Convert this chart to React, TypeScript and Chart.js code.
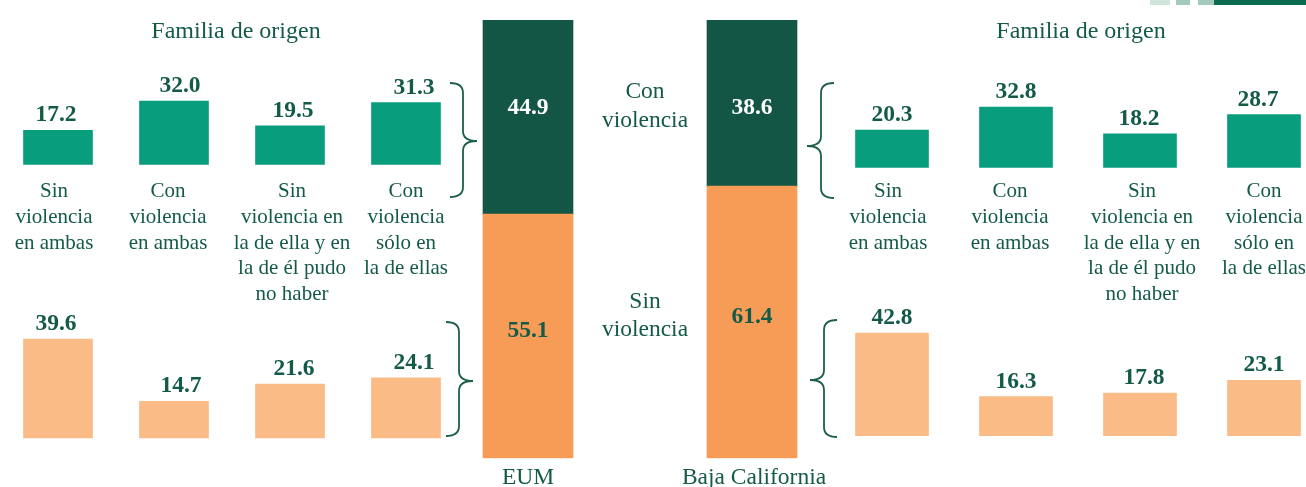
import React, { useEffect, useRef } from 'react';
import { Chart, registerables } from 'chart.js';

Chart.register(...registerables);

// ---------- data ----------
const categories = [
  'Sin violencia en ambas',
  'Con violencia en ambas',
  'Sin violencia en la de ella y en la de él pudo no haber',
  'Con violencia sólo en la de ellas',
];
const categoryLines = [
  ['Sin', 'violencia', 'en ambas'],
  ['Con', 'violencia', 'en ambas'],
  ['Sin', 'violencia en', 'la de ella y en', 'la de él pudo', 'no haber'],
  ['Con', 'violencia', 'sólo en', 'la de ellas'],
];
const eumConViolencia = [17.2, 32.0, 19.5, 31.3];
const eumSinViolencia = [39.6, 14.7, 21.6, 24.1];
const bcConViolencia = [20.3, 32.8, 18.2, 28.7];
const bcSinViolencia = [42.8, 16.3, 17.8, 23.1];
const totalLabels = ['EUM', 'Baja California'];
const totalConViolencia = [44.9, 38.6];
const totalSinViolencia = [55.1, 61.4];
const groupTitle = 'Familia de origen';
const conLabel = ['Con', 'violencia'];
const sinLabel = ['Sin', 'violencia'];

// ---------- styles ----------
const FONT = "'Liberation Serif', 'Times New Roman', Times, serif";
const TEXT = '#135a48';
const GREEN = '#079d7d';
const DARK = '#135646';
const ORANGE = '#f79c56';
const LIGHT_ORANGE = '#fabb87';
const BRACE = '#1d5e4d';

function drawBrace(ctx: CanvasRenderingContext2D, x: number, y1: number, y2: number, ym: number, dir: number) {
  const r = 10;
  const endW = 13;
  const tipW = 14;
  ctx.beginPath();
  ctx.moveTo(x - dir * endW, y1);
  ctx.quadraticCurveTo(x, y1, x, y1 + r);
  ctx.lineTo(x, ym - r);
  ctx.quadraticCurveTo(x, ym, x + dir * tipW, ym);
  ctx.quadraticCurveTo(x, ym, x, ym + r);
  ctx.lineTo(x, y2 - r);
  ctx.quadraticCurveTo(x, y2, x - dir * endW, y2);
  ctx.stroke();
}

function sidePlugin(pageLeft: number, titleX: number, decoration: boolean, labelShift: number[], valueShift: number[][]) {
  return {
    id: 'side' + pageLeft,
    afterDraw(chart: any) {
      const ctx: CanvasRenderingContext2D = chart.ctx;
      const px = (x: number) => x - pageLeft;
      ctx.save();
      ctx.fillStyle = TEXT;
      ctx.textAlign = 'center';
      ctx.textBaseline = 'alphabetic';
      ctx.font = `24px ${FONT}`;
      ctx.fillText(groupTitle, px(titleX), 38);
      const xs = chart.scales.x;
      ctx.font = `21px ${FONT}`;
      categoryLines.forEach((lines, i) => {
        const x = xs.getPixelForValue(i) + labelShift[i];
        lines.forEach((ln, k) => ctx.fillText(ln, x, 197 + k * 25.8));
      });
      ctx.font = `bold 23.5px ${FONT}`;
      chart.data.datasets.forEach((ds: any, di: number) => {
        const meta = chart.getDatasetMeta(di);
        meta.data.forEach((el: any, i: number) => {
          ctx.fillText(Number(ds.data[i]).toFixed(1), el.x + valueShift[di][i], el.y - 9);
        });
      });
      if (decoration) {
        ctx.fillStyle = '#cfe4da';
        ctx.fillRect(px(1150), 0, 20, 5);
        ctx.fillStyle = '#a3cbbb';
        ctx.fillRect(px(1176), 0, 14, 5);
        ctx.fillRect(px(1198), 0, 16, 5);
        ctx.fillStyle = '#0d6b51';
        ctx.fillRect(px(1214), 0, 92, 5);
      }
      ctx.restore();
    },
  };
}

function centerPlugin(pageLeft: number) {
  return {
    id: 'center',
    afterDraw(chart: any) {
      const ctx: CanvasRenderingContext2D = chart.ctx;
      const px = (x: number) => x - pageLeft;
      ctx.save();
      ctx.textAlign = 'center';
      ctx.textBaseline = 'alphabetic';
      // segment values
      ctx.font = `bold 23.5px ${FONT}`;
      chart.data.datasets.forEach((ds: any, di: number) => {
        const meta = chart.getDatasetMeta(di);
        meta.data.forEach((el: any, i: number) => {
          const top = Math.max(el.y, chart.chartArea.top - 5);
          ctx.fillStyle = di === 1 ? '#ffffff' : TEXT;
          const y = di === 1 ? top + 99 : (top + el.base) / 2 + 1;
          ctx.fillText(Number(ds.data[i]).toFixed(1), el.x, y);
        });
      });
      // x labels
      ctx.fillStyle = TEXT;
      ctx.font = `23.5px ${FONT}`;
      const xs = chart.scales.x;
      totalLabels.forEach((t, i) => ctx.fillText(t, xs.getPixelForValue(i) + (i === 1 ? 2 : 0), 484));
      // side annotations
      conLabel.forEach((t, k) => ctx.fillText(t, px(645), 98 + k * 29));
      sinLabel.forEach((t, k) => ctx.fillText(t, px(645), 308 + k * 27.5));
      // braces
      ctx.strokeStyle = BRACE;
      ctx.lineWidth = 1.8;
      drawBrace(ctx, px(463), 83, 197, 141, 1);
      drawBrace(ctx, px(459), 322, 436, 381, 1);
      drawBrace(ctx, px(821), 83, 198, 146, -1);
      drawBrace(ctx, px(824), 320, 437, 380, -1);
      ctx.restore();
    },
  };
}

function sideConfig(con: number[], sin: number[], green: any, orange: any, thick: number, plugin: any) {
  return {
    type: 'bar',
    data: {
      labels: categories,
      datasets: [
        { label: 'Con violencia', data: con, yAxisID: 'yG', backgroundColor: GREEN, barThickness: thick, grouped: false },
        { label: 'Sin violencia', data: sin, yAxisID: 'yO', backgroundColor: LIGHT_ORANGE, barThickness: thick, grouped: false },
      ],
    },
    options: {
      responsive: false,
      maintainAspectRatio: false,
      animation: false,
      events: [],
      layout: { padding: 0 },
      plugins: { legend: { display: false }, tooltip: { enabled: false } },
      scales: {
        x: { type: 'category', display: false },
        yG: { type: 'linear', axis: 'y', display: false, min: green.min, max: green.max },
        yO: { type: 'linear', axis: 'y', display: false, min: orange.min, max: orange.max },
      },
    },
    plugins: [plugin],
  };
}

function centerConfig(plugin: any) {
  return {
    type: 'bar',
    data: {
      labels: totalLabels,
      datasets: [
        { label: 'Sin violencia', data: totalSinViolencia, backgroundColor: ORANGE, barThickness: 90 },
        { label: 'Con violencia', data: totalConViolencia, backgroundColor: DARK, barThickness: 90 },
      ],
    },
    options: {
      responsive: false,
      maintainAspectRatio: false,
      animation: false,
      events: [],
      layout: { padding: { top: 20, bottom: 28.7, left: 0, right: 0 } },
      plugins: { legend: { display: false }, tooltip: { enabled: false } },
      scales: {
        x: { type: 'category', display: false, stacked: true },
        y: { type: 'linear', display: false, stacked: true, min: 0, max: 98.9 },
      },
    },
    plugins: [plugin],
  };
}

function ChartCanvas({ left, width, config }: { left: number; width: number; config: any }) {
  const ref = useRef<HTMLCanvasElement | null>(null);
  useEffect(() => {
    if (!ref.current) return;
    const chart = new Chart(ref.current, config);
    return () => chart.destroy();
  }, []);
  return (
    <canvas
      ref={ref}
      width={width}
      height={487}
      style={{ position: 'absolute', left, top: 0, width, height: 487, display: 'block' }}
    />
  );
}

export default function App() {
  const leftCfg = sideConfig(
    eumConViolencia,
    eumSinViolencia,
    { min: -(487 - 164.5) / 1.98, max: 164.5 / 1.98 },
    { min: -(487 - 438) / 2.5, max: 438 / 2.5 },
    69,
    sidePlugin(0, 236, false, [-4, -6, 2, 0], [[-2, 6, 3, 8], [-2, 7, 4, 8]])
  );
  const rightCfg = sideConfig(
    bcConViolencia,
    bcSinViolencia,
    { min: -(487 - 167.3) / 1.835, max: 167.3 / 1.835 },
    { min: -(487 - 435.7) / 2.4, max: 435.7 / 2.4 },
    73,
    sidePlugin(830, 1081, true, [-4, -6, 2, 0], [[0, 0, -1, -6], [0, 0, 4, 0]])
  );
  const midCfg = centerConfig(centerPlugin(416));
  return (
    <div
      style={{
        position: 'absolute',
        left: 0,
        top: 0,
        width: 1306,
        height: 487,
        overflow: 'hidden',
        background: '#ffffff',
      }}
    >
      <ChartCanvas left={0} width={464} config={leftCfg} />
      <ChartCanvas left={416} width={448} config={midCfg} />
      <ChartCanvas left={830} width={496} config={rightCfg} />
    </div>
  );
}
